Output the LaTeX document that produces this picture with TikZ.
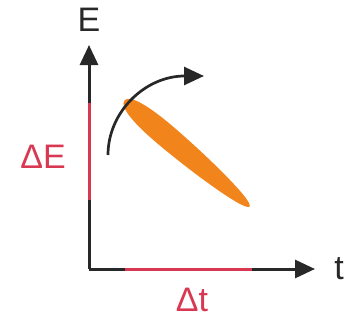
\documentclass[tikz,border=0pt]{standalone}
\usepackage{fontspec}
\setmainfont{Liberation Sans}
\usetikzlibrary{arrows.meta}
\definecolor{axisgray}{RGB}{40,40,40}
\definecolor{dred}{RGB}{216,56,82}
\definecolor{orng}{RGB}{241,132,27}
\tikzset{
  axisline/.style={draw=axisgray, line width=3pt, -{Triangle[length=20pt,width=18pt]}},
  redseg/.style={draw=dred, line width=3pt},
  lbl/.style={font=\fontsize{34}{40}\selectfont, inner sep=0pt},
}
\begin{document}
\begin{tikzpicture}[x=1pt,y=-1pt]
\useasboundingbox (0,0) rectangle (357,322);
\coordinate (O) at (89,269);
\coordinate (Etip) at (89,45);
\coordinate (ttip) at (315,269);
\coordinate (ea) at (89,103);
\coordinate (eb) at (89,200);
\coordinate (ta) at (125,269);
\coordinate (tb) at (252,269);
\coordinate (ec) at (187,153.5);
\coordinate (as) at (108,155);
\coordinate (ae) at (204,76);
% slightly tapered ellipse
\begin{scope}[shift={(ec)}, rotate=-40.3]
\fill[orng] (-82,0) .. controls (-82,-8) and (-60,-11.5) .. (-30,-11.5)
  .. controls (12,-11.5) and (82,-7) .. (82,0)
  .. controls (82,7) and (12,11.5) .. (-30,11.5)
  .. controls (-60,11.5) and (-82,8) .. cycle;
\end{scope}
% axes
\draw[axisline] (O) -- (Etip);
\draw[axisline] (O) -- (ttip);
\draw[redseg] (ea) -- (eb);
\draw[redseg] (ta) -- (tb);
% curved arrow
\draw[axisgray, line width=2.7pt, -{Triangle[length=20pt,width=18pt]}] (as) .. controls (108,112) and (145,76) .. (ae);
% labels
\node[lbl, text=axisgray] (E) at (89,20) {E};
\node[lbl, text=axisgray] (t) at (339,269) {t};
\node[lbl, text=dred] (dE) at (43,157) {ΔE};
\node[lbl, text=dred] (dt) at (192,300) {Δt};
\end{tikzpicture}
\end{document}
